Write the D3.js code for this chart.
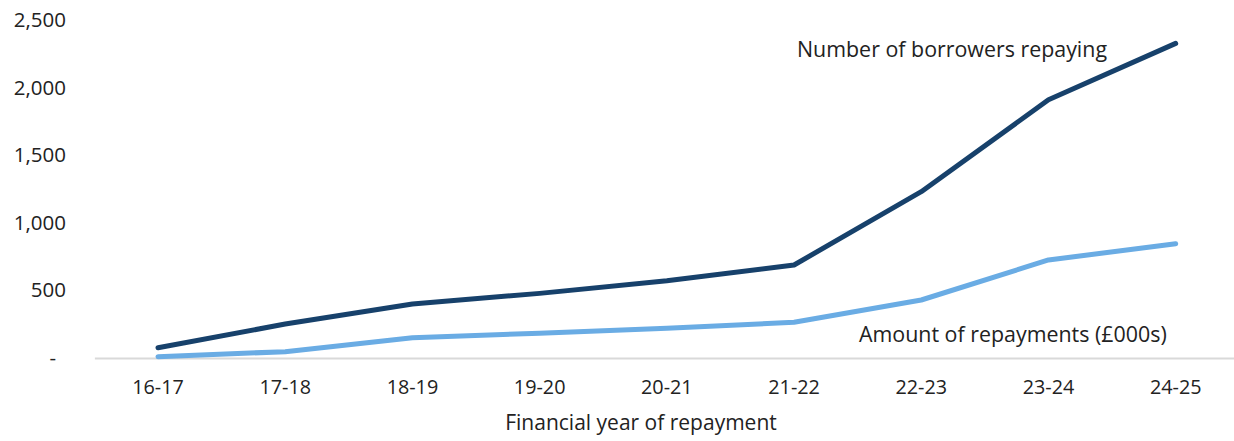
<!DOCTYPE html>
<html><head><meta charset="utf-8">
<script src="https://cdn.jsdelivr.net/npm/d3@7"></script>
<style>
html,body{margin:0;padding:0;background:#fff;}
svg text{font-family:"Open Sans",sans-serif;fill:#222;}
</style></head>
<body><svg id="c" width="1234" height="441"></svg>
<script>
const categories = ["16-17","17-18","18-19","19-20","20-21","21-22","22-23","23-24","24-25"];
const borrowers = [76, 251, 400, 478, 572, 688, 1230, 1910, 2327];
const repayments = [10, 47, 150, 183, 220, 264, 429, 725, 845];
const yTicks = [0, 500, 1000, 1500, 2000, 2500];
const seriesLabels = ["Number of borrowers repaying", "Amount of repayments (£000s)"];
const xTitle = "Financial year of repayment";

const FONT = "'Open Sans', sans-serif";
const svg = d3.select("#c");
const x = d3.scaleBand().domain(categories).range([94.4, 1239.3]);
const y = d3.scaleLinear().domain([0, 2500]).range([358, 20]);
const cx = d => x(d) + x.bandwidth()/2;

// y axis labels
const yAxis = d3.axisLeft(y).tickValues(yTicks).tickSize(0).tickPadding(0)
  .tickFormat(v => v === 0 ? "-" : d3.format(",")(v));
const gy = svg.append("g").attr("transform","translate(66,0)").call(yAxis);
gy.select(".domain").remove();
gy.selectAll("text").attr("font-size",20.5).style("font-family",FONT).attr("fill","#222")
  .attr("dx", v => v === 0 ? -10 : 0);

// x axis
const xAxis = d3.axisBottom(x).tickSize(0).tickPadding(22);
const gx = svg.append("g").attr("transform","translate(0,358)").call(xAxis);
gx.select(".domain").attr("stroke","#d9d9d9").attr("stroke-width",2);
gx.selectAll("text").attr("font-size",19.8).style("font-family",FONT).attr("fill","#222");

svg.append("text").attr("x",641).attr("y",430).attr("text-anchor","middle")
  .attr("font-size",21).text(xTitle);

const line = d3.line().x((d,i)=>cx(categories[i])).y(d=>y(d));
svg.append("path").datum(repayments).attr("d",line).attr("fill","none")
  .attr("stroke","#6aace4").attr("stroke-width",5).attr("stroke-linecap","round").attr("stroke-linejoin","round");
svg.append("path").datum(borrowers).attr("d",line).attr("fill","none")
  .attr("stroke","#17416b").attr("stroke-width",5).attr("stroke-linecap","round").attr("stroke-linejoin","round");

svg.append("text").attr("x",797).attr("y",57).attr("font-size",21.4).text(seriesLabels[0]);
svg.append("text").attr("x",859).attr("y",342).attr("font-size",21.4).text(seriesLabels[1]);
</script></body></html>
